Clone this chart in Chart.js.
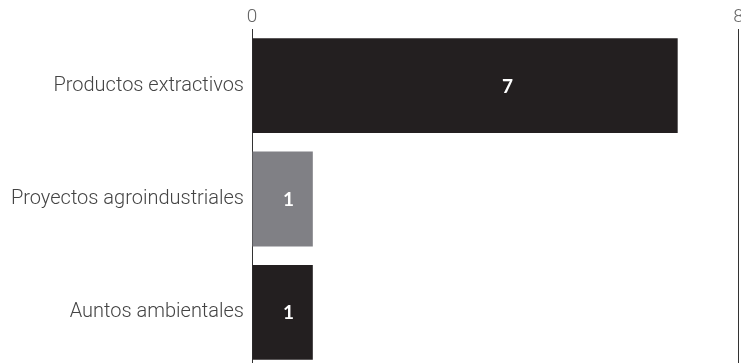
<!DOCTYPE html>
<html lang="es">
<head>
  <meta charset="UTF-8">
  <title>Proyectos</title>
  <script src="https://cdn.jsdelivr.net/npm/chart.js"></script>
  <style>
    html, body { margin: 0; padding: 0; background: #fff; overflow: hidden; }
  </style>
</head>
<body>
  <canvas id="graficoProyectos" width="748" height="369"></canvas>

<script>
  // datos
  const categorias = ['Productos extractivos', 'Proyectos agroindustriales', 'Auntos ambientales'];
  const valores = [7, 1, 1];
  const coresBarras = ['#231f20', '#808085', '#231f20'];
  const ejeMin = 0;
  const ejeMax = 8;
  const pasoEje = 8;

  // etiqueta de valor dentro de cada barra
  const etiquetasValor = {
    id: 'etiquetasValor',
    afterDatasetsDraw(chart) {
      const ctx = chart.ctx;
      const escalaX = chart.scales.x;
      const meta = chart.getDatasetMeta(0);
      ctx.save();
      ctx.fillStyle = '#ffffff';
      ctx.font = '700 19px Lato';
      ctx.textAlign = 'center';
      ctx.textBaseline = 'middle';
      meta.data.forEach((barra, i) => {
        const x = escalaX.getPixelForValue(valores[i] * 0.6);
        ctx.fillText(String(valores[i]), x, barra.y + 1);
      });
      ctx.restore();
    }
  };

  const ctx = document.getElementById('graficoProyectos');
  new Chart(ctx, {
    type: 'bar',
    data: {
      labels: categorias,
      datasets: [{
        data: valores,
        backgroundColor: coresBarras,
        borderWidth: 0,
        categoryPercentage: 1,
        barPercentage: 0.837
      }]
    },
    options: {
      indexAxis: 'y',
      responsive: false,
      animation: false,
      layout: { padding: { left: 0, right: 9.5, top: 0, bottom: 0 } },
      plugins: {
        legend: { display: false },
        tooltip: { enabled: false }
      },
      scales: {
        x: {
          position: 'top',
          min: ejeMin,
          max: ejeMax,
          ticks: {
            stepSize: pasoEje,
            color: '#666',
            padding: 0,
            font: { family: 'Roboto', weight: '300', size: 19 }
          },
          grid: { color: '#333', lineWidth: 1, drawTicks: false },
          border: { display: false },
          afterFit(escala) { escala.height = 29; }
        },
        y: {
          ticks: {
            color: '#444',
            padding: 8,
            font: { family: 'Roboto', weight: '300', size: 20 }
          },
          grid: { display: false, drawTicks: false },
          border: { display: false },
          afterFit(escala) {
            escala.width = 252;
            escala.paddingTop = 0;
            escala.paddingBottom = 0;
          }
        }
      }
    },
    plugins: [etiquetasValor]
  });
</script>
</body>
</html>
